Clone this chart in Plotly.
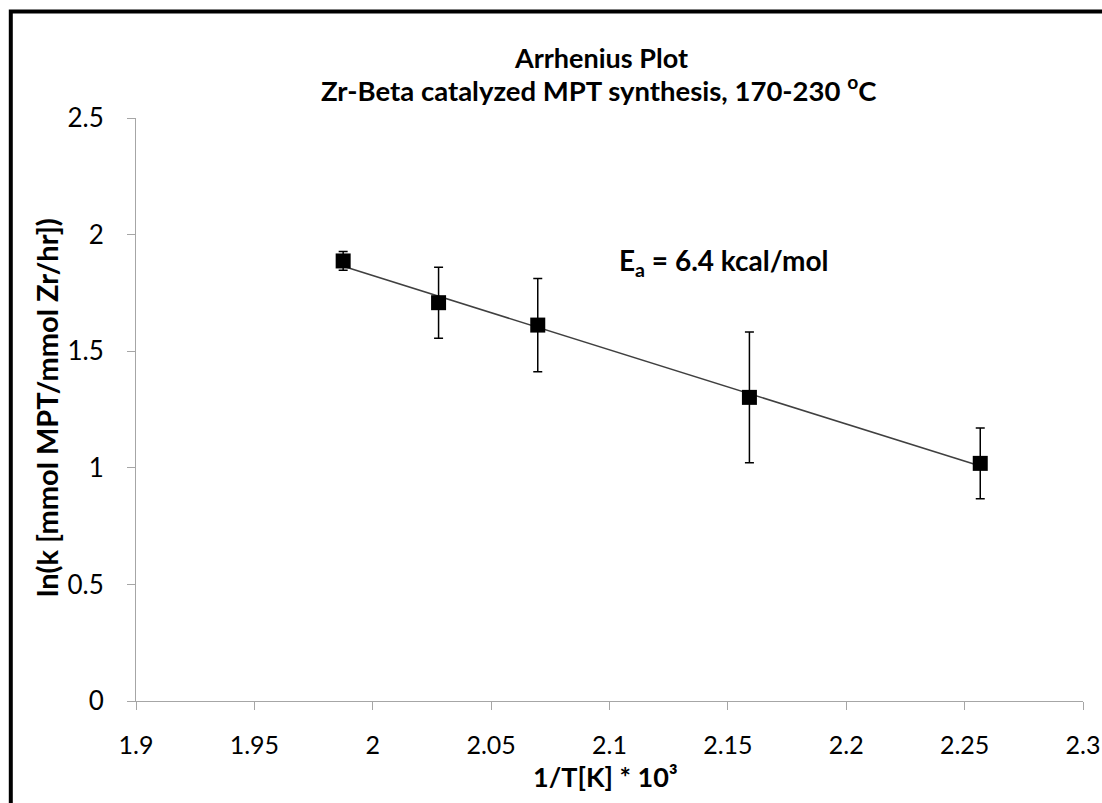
import numpy as np
import plotly.graph_objects as go

# Data
inv_T = [1.9875, 2.0278, 2.0697, 2.1591, 2.2566]   # 1/T[K] * 10^3
ln_k = [1.887, 1.708, 1.612, 1.302, 1.019]
err = [0.04, 0.152, 0.20, 0.28, 0.152]

x_ticks = [1.9, 1.95, 2.0, 2.05, 2.1, 2.15, 2.2, 2.25, 2.3]
x_tick_labels = ["1.9", "1.95", "2", "2.05", "2.1", "2.15", "2.2", "2.25", "2.3"]
y_ticks = [0, 0.5, 1, 1.5, 2, 2.5]
y_tick_labels = ["0", "0.5", "1", "1.5", "2", "2.5"]

title_1 = "Arrhenius Plot"
title_2 = "Zr-Beta catalyzed MPT synthesis, 170-230 <sup>o</sup>C"
x_title = "1/T[K] * 10³"
y_title = "ln(k [mmol MPT/mmol Zr/hr])"
ea_text = "E<sub>a</sub> = 6.4 kcal/mol"

FONT = "Lato"

# linear trendline (least squares fit of the data)
coef = np.polyfit(inv_T, ln_k, 1)
fit_x = [min(inv_T), max(inv_T)]
fit_y = list(np.polyval(coef, fit_x))

fig = go.Figure()
fig.add_trace(go.Scatter(
    x=fit_x, y=fit_y, mode="lines",
    line=dict(color="#404040", width=1.5),
    hoverinfo="skip", showlegend=False))
fig.add_trace(go.Scatter(
    x=inv_T, y=ln_k, mode="markers",
    marker=dict(symbol="square", size=15, color="black"),
    error_y=dict(type="data", array=err, visible=True,
                 color="black", thickness=1.5, width=4.5),
    showlegend=False))

W, H = 1102, 803
L, R, T, B = 136, 19, 118, 102
pw, ph = W - L - R, H - T - B

def px_x(p):
    return (p - L) / pw

def px_y(p):
    return (H - B - p) / ph

axis_col = "#a6a6a6"
fig.update_layout(
    width=W, height=H,
    margin=dict(l=L, r=R, t=T, b=B, pad=0),
    paper_bgcolor="white", plot_bgcolor="white",
    font=dict(family=FONT, color="black", size=25),
    xaxis=dict(range=[1.9, 2.3], tickvals=x_ticks, ticktext=x_tick_labels,
               showgrid=False, zeroline=False, showline=True,
               linecolor=axis_col, linewidth=1, automargin=False,
               ticks="outside", ticklen=8, tickcolor=axis_col, tickwidth=1,
               ticklabelstandoff=14, tickfont=dict(size=25, family=FONT)),
    yaxis=dict(range=[0, 2.5], tickvals=y_ticks, ticktext=y_tick_labels,
               showgrid=False, zeroline=False, showline=True,
               linecolor=axis_col, linewidth=1, automargin=False,
               ticks="outside", ticklen=8, tickcolor=axis_col, tickwidth=1,
               ticklabelstandoff=18, tickfont=dict(size=26, family=FONT)),
)

annots = [
    dict(text="<b>" + title_1 + "</b>", x=px_x(601), y=px_y(57), size=27),
    dict(text="<b>" + title_2 + "</b>", x=px_x(598), y=px_y(89), size=27.5),
    dict(text="<b>" + x_title + "</b>", x=px_x(605), y=px_y(776), size=27),
    dict(text="<b>" + ea_text + "</b>", x=px_x(723), y=px_y(262), size=28),
]
for a in annots:
    fig.add_annotation(text=a["text"], x=a["x"], y=a["y"], xref="paper", yref="paper",
                       xanchor="center", yanchor="middle", showarrow=False,
                       font=dict(family=FONT, size=a["size"], color="black"))
fig.add_annotation(text="<b>" + y_title + "</b>", x=px_x(46), y=px_y(408),
                   xref="paper", yref="paper", textangle=-90,
                   xanchor="center", yanchor="middle", showarrow=False,
                   font=dict(family=FONT, size=29, color="black"))

# outer frame (left and top edges visible)
fig.add_shape(type="rect", xref="paper", yref="paper",
              x0=px_x(10.8), x1=px_x(W + 50), y0=px_y(H + 50), y1=px_y(11.5),
              line=dict(color="black", width=4), fillcolor="rgba(0,0,0,0)", layer="above")

fig.write_html("out.html")
